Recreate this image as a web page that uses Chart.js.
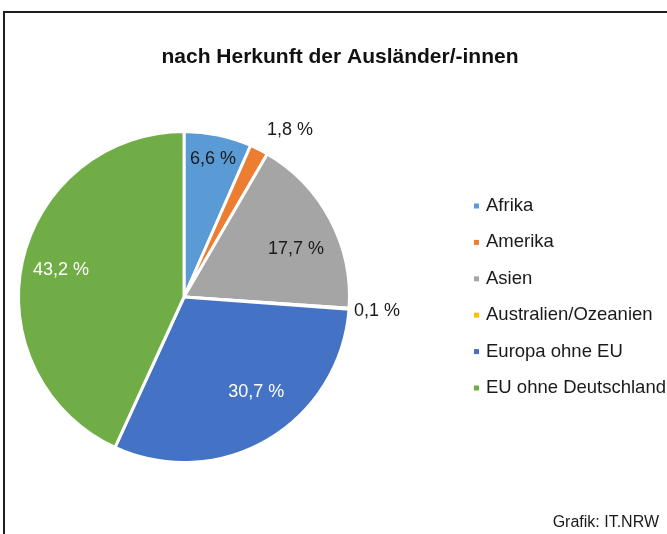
<!DOCTYPE html>
<html>
<head>
<meta charset="utf-8">
<script src="https://cdn.jsdelivr.net/npm/chart.js@4/dist/chart.umd.min.js"></script>
<style>
  html, body { margin: 0; padding: 0; background: #fff; }
  body { width: 667px; height: 534px; position: relative; overflow: hidden; }
  #frame { position: absolute; left: 3px; top: 11px; width: 720px; height: 600px;
           border-left: 2px solid #1e1e1e; border-top: 2px solid #1e1e1e; }
  #chart { position: absolute; left: 0; top: 0; }
</style>
</head>
<body>
<div id="frame"></div>
<canvas id="chart" width="667" height="534"></canvas>
<script>
const title = 'nach Herkunft der Ausländer/-innen';
const source = 'Grafik: IT.NRW';
const regions = ['Afrika', 'Amerika', 'Asien', 'Australien/Ozeanien', 'Europa ohne EU', 'EU ohne Deutschland'];
const shares = [6.6, 1.8, 17.7, 0.1, 30.7, 43.2];
const colors = ['#5B9BD5', '#ED7D31', '#A5A5A5', '#FFC000', '#4472C4', '#70AD47'];

// label placement: fraction of radius and angle tweak in degrees
const labelRadius = [0.851, 1.195, 0.737, 1.169, 0.72, 0.761];
const labelTurn = [0, 5.4, 4.7, 0, -6.8, 0];
const labelColor = ['#1a1a1a', '#1a1a1a', '#1a1a1a', '#1a1a1a', '#ffffff', '#ffffff'];

const fmt = v => v.toFixed(1).replace('.', ',') + ' %';

const decorations = {
    id: 'decorations',
    afterDraw(chart) {
        const ctx = chart.ctx;
        ctx.save();
        ctx.textBaseline = 'middle';

        // title
        ctx.fillStyle = '#111';
        ctx.font = 'bold 21px "Liberation Sans", Arial, sans-serif';
        ctx.textAlign = 'center';
        ctx.fillText(title, 340, 57);

        // slice labels
        const arcs = chart.getDatasetMeta(0).data;
        ctx.font = '18px "Liberation Sans", Arial, sans-serif';
        arcs.forEach((arc, i) => {
            const mid = (arc.startAngle + arc.endAngle) / 2 + labelTurn[i] * Math.PI / 180;
            const r = arc.outerRadius * labelRadius[i];
            ctx.fillStyle = labelColor[i];
            ctx.fillText(fmt(shares[i]), arc.x + Math.cos(mid) * r, arc.y + Math.sin(mid) * r);
        });

        // legend
        ctx.font = '18.5px "Liberation Sans", Arial, sans-serif';
        ctx.textAlign = 'left';
        regions.forEach((name, i) => {
            const y = 206 + i * 36.4;
            ctx.fillStyle = colors[i];
            ctx.fillRect(474, y - 2.5, 5, 5);
            ctx.fillStyle = '#1a1a1a';
            ctx.fillText(name, 486, y);
        });

        // source
        ctx.font = '16px "Liberation Sans", Arial, sans-serif';
        ctx.textAlign = 'right';
        ctx.fillStyle = '#1a1a1a';
        ctx.fillText(source, 659, 523);
        ctx.restore();
    }
};

new Chart(document.getElementById('chart'), {
    type: 'pie',
    data: {
        labels: regions,
        datasets: [{
            data: shares,
            backgroundColor: colors,
            borderColor: '#ffffff',
            borderWidth: 3
        }]
    },
    options: {
        responsive: false,
        animation: false,
        layout: {
            padding: { left: 17, top: 130, right: 316, bottom: 70 }
        },
        plugins: {
            legend: { display: false },
            tooltip: { enabled: false },
            title: { display: false }
        }
    },
    plugins: [decorations]
});
</script>
</body>
</html>
